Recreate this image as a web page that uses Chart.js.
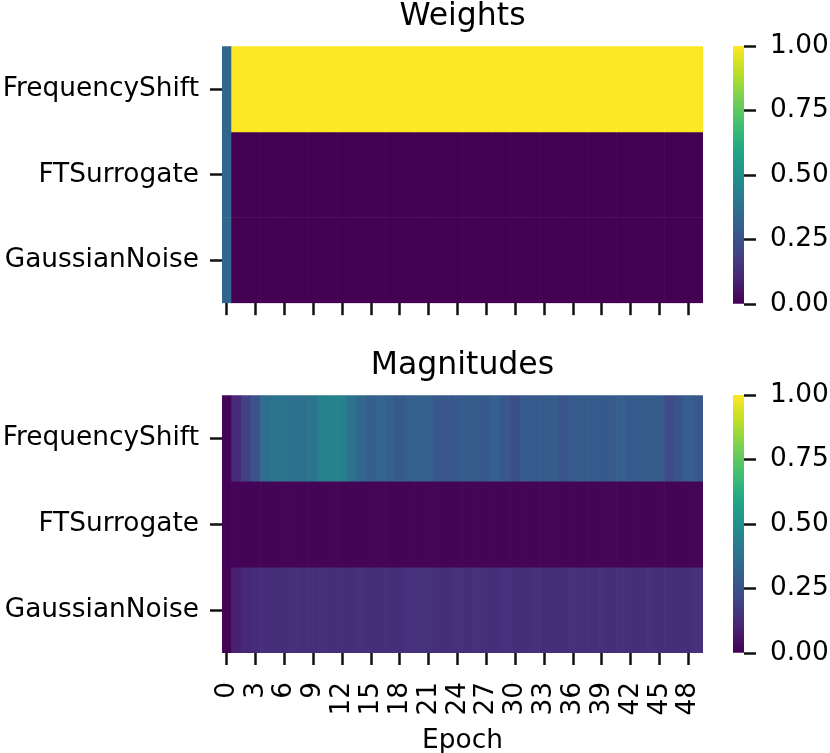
<!DOCTYPE html>
<html>
<head>
<meta charset="utf-8">
<script src="https://cdn.jsdelivr.net/npm/chart.js"></script>
<style>
  html, body { margin: 0; padding: 0; background: #fff; }
  #wrap { position: relative; width: 830px; height: 753px; overflow: hidden; }
  canvas { position: absolute; }
</style>
</head>
<body>
<div id="wrap">
  <canvas id="weights" width="703" height="330" style="left:0;top:0;width:703px;height:330px"></canvas>
  <canvas id="weightsBar" width="97" height="318" style="left:733px;top:16px;width:97px;height:318px"></canvas>
  <canvas id="magnitudes" width="703" height="437" style="left:0;top:316px;width:703px;height:437px"></canvas>
  <canvas id="magnitudesBar" width="97" height="318" style="left:733px;top:365px;width:97px;height:318px"></canvas>
</div>
<script>
const epochs = ['0','1','2','3','4','5','6','7','8','9','10','11','12','13','14','15','16','17','18','19',
  '20','21','22','23','24','25','26','27','28','29','30','31','32','33','34','35','36','37','38','39',
  '40','41','42','43','44','45','46','47','48','49'];
const augmentations = ['FrequencyShift', 'FTSurrogate', 'GaussianNoise'];
const colorbarTicks = [0, 0.25, 0.5, 0.75, 1];

const weightsFrequencyShift = [0.333, 1, 1, 1, 1, 1, 1, 1, 1, 1, 1, 1, 1, 1, 1, 1, 1, 1, 1, 1, 1, 1, 1, 1, 1,
  1, 1, 1, 1, 1, 1, 1, 1, 1, 1, 1, 1, 1, 1, 1, 1, 1, 1, 1, 1, 1, 1, 1, 1, 1];
const weightsFTSurrogate = [0.333, 0, 0, 0, 0, 0, 0, 0, 0, 0, 0, 0, 0, 0, 0, 0, 0, 0, 0, 0, 0, 0, 0, 0, 0,
  0, 0, 0, 0, 0, 0, 0, 0, 0, 0, 0, 0, 0, 0, 0, 0, 0, 0, 0, 0, 0, 0, 0, 0, 0];
const weightsGaussianNoise = [0.333, 0, 0, 0, 0, 0, 0, 0, 0, 0, 0, 0, 0, 0, 0, 0, 0, 0, 0, 0, 0, 0, 0, 0, 0,
  0, 0, 0, 0, 0, 0, 0, 0, 0, 0, 0, 0, 0, 0, 0, 0, 0, 0, 0, 0, 0, 0, 0, 0, 0];

const magnitudesFrequencyShift = [0.01, 0.12, 0.19, 0.25, 0.35, 0.38, 0.38, 0.37, 0.37, 0.39,
  0.43, 0.44, 0.43, 0.37, 0.33, 0.30, 0.32, 0.30, 0.28, 0.30,
  0.31, 0.31, 0.27, 0.27, 0.28, 0.29, 0.28, 0.28, 0.30, 0.27,
  0.24, 0.29, 0.28, 0.28, 0.29, 0.26, 0.28, 0.29, 0.29, 0.28,
  0.28, 0.30, 0.28, 0.29, 0.29, 0.29, 0.23, 0.26, 0.30, 0.27];
const magnitudesFTSurrogate = [0.005, 0.01, 0.01, 0.01, 0.01, 0.01, 0.01, 0.01, 0.01, 0.01,
  0.01, 0.01, 0.01, 0.01, 0.01, 0.01, 0.01, 0.01, 0.01, 0.01,
  0.01, 0.01, 0.01, 0.01, 0.01, 0.01, 0.01, 0.01, 0.01, 0.01,
  0.01, 0.01, 0.01, 0.01, 0.01, 0.01, 0.01, 0.01, 0.01, 0.01,
  0.01, 0.01, 0.01, 0.01, 0.01, 0.01, 0.01, 0.01, 0.01, 0.01];
const magnitudesGaussianNoise = [0.01, 0.09, 0.11, 0.12, 0.13, 0.13, 0.13, 0.14, 0.13, 0.13,
  0.14, 0.13, 0.13, 0.13, 0.14, 0.13, 0.13, 0.13, 0.13, 0.14,
  0.14, 0.14, 0.13, 0.13, 0.14, 0.13, 0.14, 0.13, 0.13, 0.14,
  0.13, 0.13, 0.14, 0.13, 0.13, 0.13, 0.14, 0.13, 0.13, 0.14,
  0.13, 0.14, 0.13, 0.13, 0.14, 0.13, 0.13, 0.13, 0.13, 0.14];

// viridis colour stops, every 0.1
const viridisStops = ['#440154', '#482475', '#414487', '#355f8d', '#2a788e', '#21918c',
  '#22a884', '#44bf70', '#7ad151', '#bddf26', '#fde725'];

Chart.defaults.font.family = "'DejaVu Sans', sans-serif";
Chart.defaults.font.size = 26.4;
Chart.defaults.color = '#000';

function hexToRgb(h) {
  return [1, 3, 5].map(i => parseInt(h.slice(i, i + 2), 16));
}
function viridis(v) {
  const t = Math.min(1, Math.max(0, v)) * 10;
  const i = Math.min(9, Math.floor(t));
  const a = hexToRgb(viridisStops[i]);
  const b = hexToRgb(viridisStops[i + 1]);
  const f = t - i;
  const c = a.map((x, k) => Math.round(x + (b[k] - x) * f));
  return `rgb(${c[0]},${c[1]},${c[2]})`;
}

function heatmap(id, title, rows, titlePadding, showLabels) {
  return new Chart(document.getElementById(id), {
    type: 'bar',
    data: {
      labels: epochs,
      datasets: rows.map((values, r) => ({
        label: augmentations[r],
        data: values.map(() => [r, r + 1]),
        backgroundColor: values.map(viridis),
        borderWidth: 0,
        barPercentage: 1,
        categoryPercentage: 1,
        grouped: false,
      })),
    },
    options: {
      responsive: false,
      animation: false,
      layout: { padding: 0 },
      plugins: {
        legend: { display: false },
        tooltip: { enabled: false },
        title: {
          display: true,
          fullSize: false,
          text: title,
          font: { size: 31.5, weight: 'normal', lineHeight: 0.8 },
          padding: titlePadding,
        },
      },
      scales: {
        x: {
          type: 'category',
          border: { display: false },
          grid: { drawOnChartArea: false, offset: false, tickLength: 12, tickWidth: 2.5, tickColor: '#111' },
          ticks: {
            display: showLabels,
            autoSkip: false,
            minRotation: 90,
            maxRotation: 90,
            padding: 17,
          },
          afterBuildTicks: scale => {
            scale.ticks = scale.ticks.filter(t => t.value % 3 === 0);
          },
          afterFit: scale => {
            scale.height = showLabels ? 100 : 26;
            scale.paddingLeft = 0;
            scale.paddingRight = 0;
          },
          title: {
            display: showLabels,
            text: 'Epoch',
            font: { lineHeight: 0.9 },
            padding: { top: 0, bottom: 0 },
          },
        },
        y: {
          type: 'linear',
          min: 0,
          max: 3,
          reverse: true,
          border: { display: false },
          grid: { drawOnChartArea: false, tickLength: 12, tickWidth: 2.5, tickColor: '#111' },
          afterBuildTicks: scale => {
            scale.ticks = [{ value: 0.5 }, { value: 1.5 }, { value: 2.5 }];
          },
          ticks: {
            padding: 11,
            callback: v => augmentations[Math.floor(v)],
          },
          afterFit: scale => { scale.width = 222; },
        },
      },
    },
  });
}

function colorbar(id) {
  return new Chart(document.getElementById(id), {
    type: 'bar',
    data: {
      labels: [''],
      datasets: [{
        data: [[0, 1]],
        borderWidth: 0,
        barPercentage: 1,
        categoryPercentage: 1,
        backgroundColor: ctx => {
          const area = ctx.chart.chartArea;
          if (!area) return viridis(0.5);
          const g = ctx.chart.ctx.createLinearGradient(0, area.bottom, 0, area.top);
          viridisStops.forEach((c, i) => g.addColorStop(i / 10, c));
          return g;
        },
      }],
    },
    options: {
      responsive: false,
      animation: false,
      layout: { padding: { top: 30, bottom: 30, left: 0, right: 0 } },
      plugins: { legend: { display: false }, tooltip: { enabled: false } },
      scales: {
        x: { display: false },
        y: {
          position: 'right',
          min: 0,
          max: 1,
          border: { display: false },
          grid: { drawOnChartArea: false, tickLength: 12, tickWidth: 2.5, tickColor: '#111' },
          afterBuildTicks: scale => {
            scale.ticks = colorbarTicks.map(v => ({ value: v }));
          },
          ticks: {
            padding: 14,
            callback: v => v.toFixed(2),
          },
          afterFit: scale => { scale.width = 86; },
        },
      },
    },
  });
}

heatmap('weights', 'Weights',
  [weightsFrequencyShift, weightsFTSurrogate, weightsGaussianNoise],
  { top: 4, bottom: 17 }, false);
heatmap('magnitudes', 'Magnitudes',
  [magnitudesFrequencyShift, magnitudesFTSurrogate, magnitudesGaussianNoise],
  { top: 37, bottom: 17 }, true);
colorbar('weightsBar');
colorbar('magnitudesBar');
</script>
</body>
</html>
